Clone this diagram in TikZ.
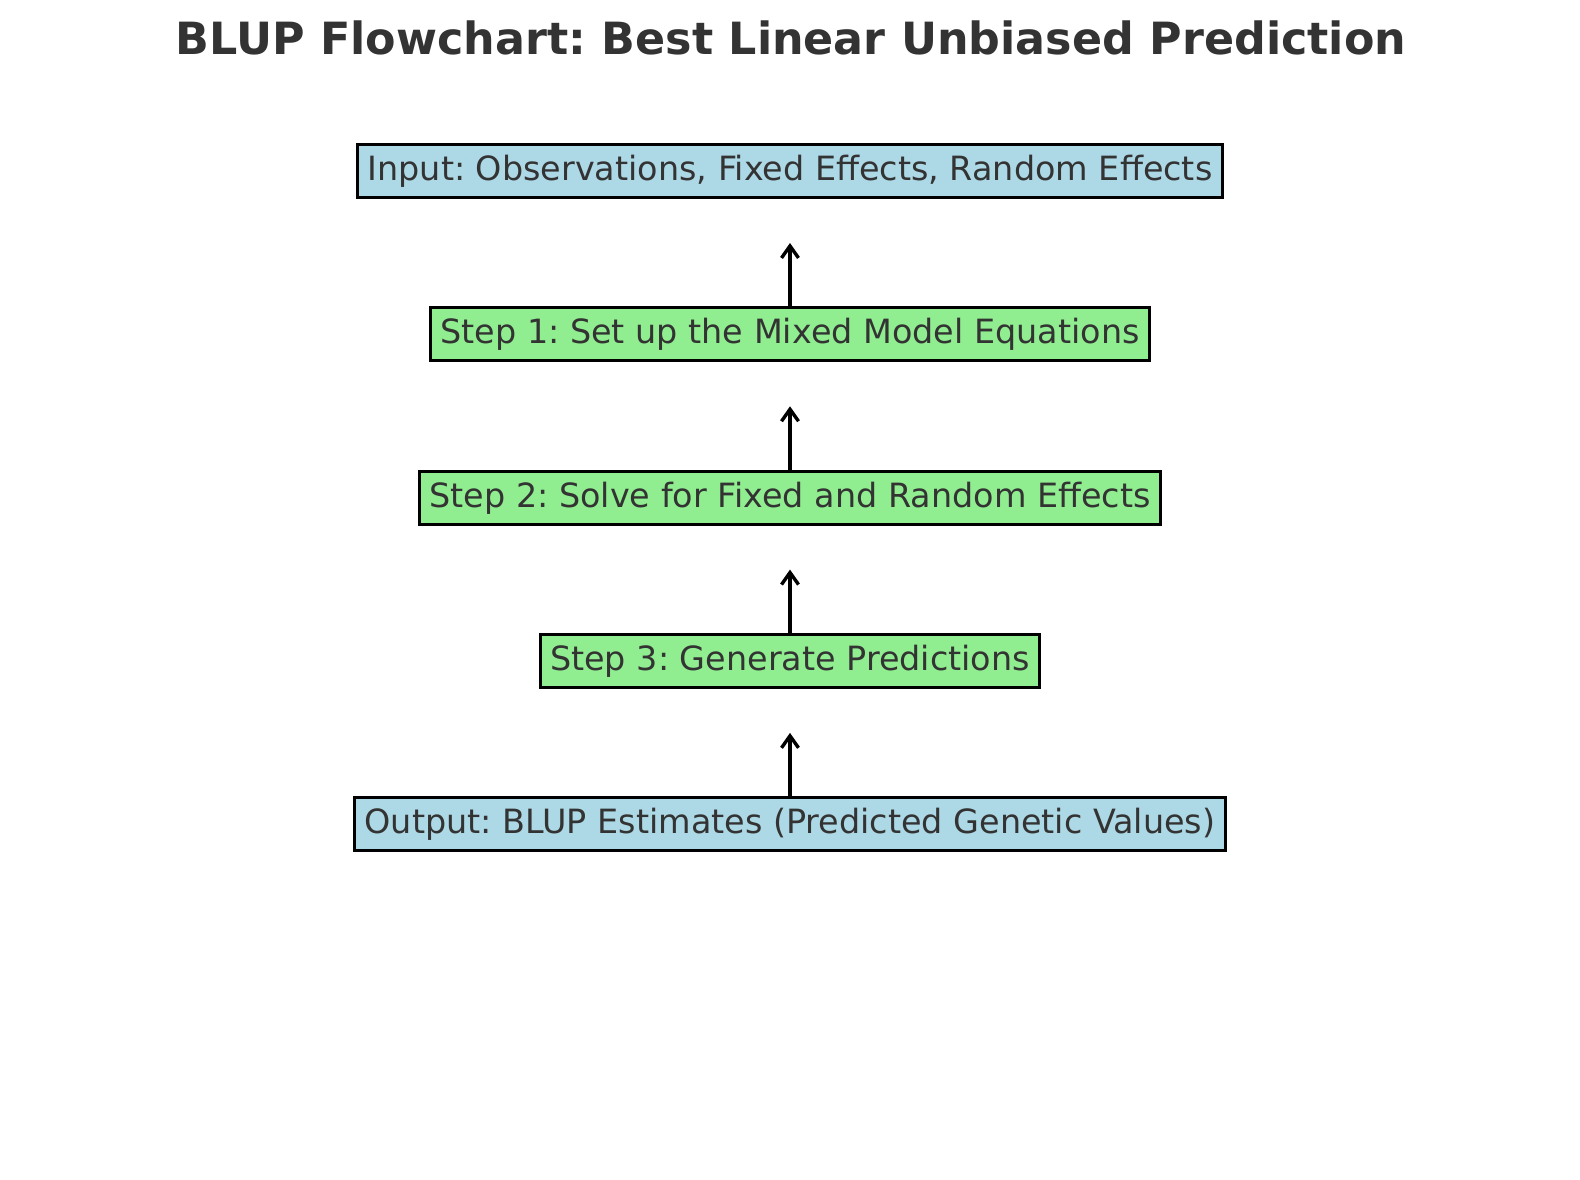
\documentclass[tikz,border=0pt]{standalone}
\usepackage{fontspec}
\setmainfont{DejaVu Sans}
\usetikzlibrary{arrows.meta}
\frenchspacing
\definecolor{txtgray}{HTML}{333333}
\definecolor{inbox}{HTML}{ADD8E6}
\definecolor{stepbox}{HTML}{90EE90}
\tikzset{
  blup/.style={draw=black,line width=3pt,text=txtgray,inner xsep=10pt,inner ysep=10pt,
    text height=26pt,text depth=7pt,font=\fontsize{33.4}{40}\selectfont},
  ioblock/.style={blup,fill=inbox},
  stepblock/.style={blup,fill=stepbox},
  uparrow/.style={-{Straight Barb[length=12pt,width=17pt,line width=3.4pt]},line width=3.5pt,shorten >=44pt}
}
\begin{document}
\begin{tikzpicture}[x=1pt,y=-1pt]
\useasboundingbox (0,0) rectangle (1580,1180);

% Titel
\node[text=txtgray,anchor=base,font=\fontsize{44.4}{50}\selectfont\bfseries] (title) at (791,55) {BLUP Flowchart: Best Linear Unbiased Prediction};

% Kasten
\node[ioblock] (input) at (790,171) {Input: Observations, Fixed Effects, Random Effects};
\node[stepblock] (step1) at (790,334.3) {Step 1: Set up the Mixed Model Equations};
\node[stepblock] (step2) at (790,497.6) {Step 2: Solve for Fixed and Random Effects};
\node[stepblock] (step3) at (790,660.9) {Step 3: Generate Predictions};
\node[ioblock] (output) at (790,824.2) {Output: BLUP Estimates (Predicted Genetic Values)};

% Pfeile
\draw[uparrow] (step1.north) -- (input.south);
\draw[uparrow] (step2.north) -- (step1.south);
\draw[uparrow] (step3.north) -- (step2.south);
\draw[uparrow] (output.north) -- (step3.south);

\end{tikzpicture}
\end{document}
